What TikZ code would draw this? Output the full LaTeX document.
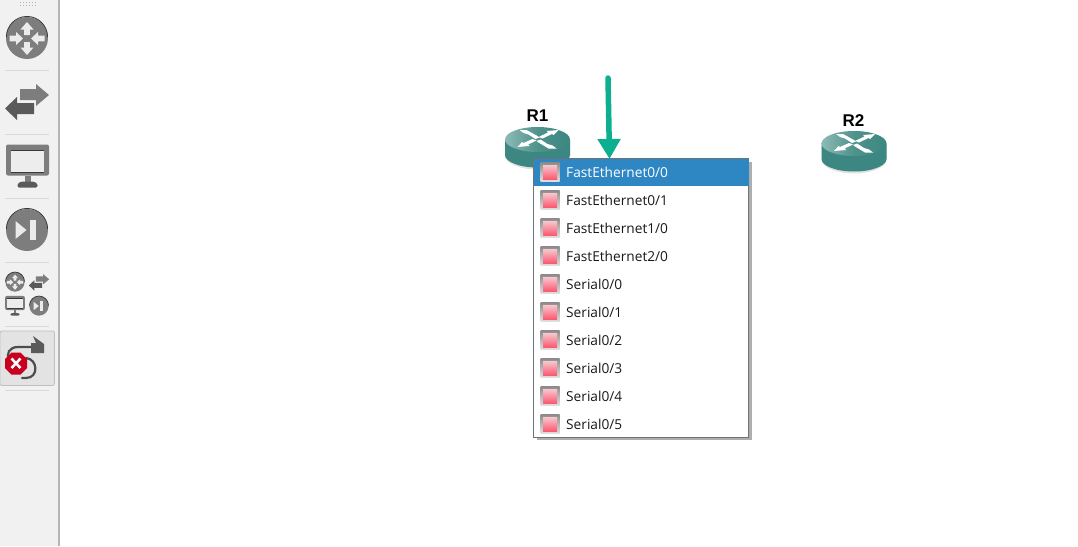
\documentclass[tikz,border=0pt]{standalone}
\usepackage{fontspec}
\setmainfont{Open Sans}
\newfontfamily\labelfont{Liberation Sans}
\usetikzlibrary{arrows.meta,shadings}
\definecolor{sidebg}{HTML}{F1F1F1}
\definecolor{sideedge}{HTML}{B4B4B4}
\definecolor{sepcol}{HTML}{D9D9D9}
\definecolor{icondark}{HTML}{5A5A5A}
\definecolor{iconmid}{HTML}{7D7D7D}
\definecolor{iconedge}{HTML}{3A3A3A}
\definecolor{teal}{HTML}{3C8781}
\definecolor{tealtop}{HTML}{4F928C}
\definecolor{tealpale}{HTML}{8DBAB6}
\definecolor{arrowgreen}{HTML}{0CB08E}
\definecolor{rowblue}{HTML}{2E87C3}
\definecolor{menuedge}{HTML}{6E7378}
\definecolor{stopred}{HTML}{C8001E}
\definecolor{ledtop}{HTML}{F7C4CC}
\definecolor{ledmid}{HTML}{F78A9A}
\definecolor{ledbot}{HTML}{FB5A72}
\tikzset{
  x=1pt,y=-1pt,
  sepline/.style={draw=sepcol,line width=1pt},
  menurow/.style={anchor=west,inner sep=0pt,font=\fontsize{13.7}{16}\selectfont,text=black!90},
  menusel/.style={menurow,text=white},
  routerlabel/.style={inner sep=0pt,font=\labelfont\bfseries\fontsize{17}{18}\selectfont},
  pics/routericon/.style={code={
    \fill[iconmid] (0,0) circle (21);
    \draw[iconedge,line width=0.8pt] (-20.6,-1) arc (180:360:20.6 and 20.6);
    \fill[white!92!black] (0,-16)--(6.5,-8.5)--(2.8,-8.5)--(2.8,-3)--(-2.8,-3)--(-2.8,-8.5)--(-6.5,-8.5)--cycle;
    \fill[white!92!black] (0,17)--(6.5,9.5)--(2.8,9.5)--(2.8,4)--(-2.8,4)--(-2.8,9.5)--(-6.5,9.5)--cycle;
    \fill[white!92!black] (-4,0.5)--(-11,-6)--(-11,-2.3)--(-17.5,-2.3)--(-17.5,3.3)--(-11,3.3)--(-11,7)--cycle;
    \fill[white!92!black] (4,0.5)--(11,-6)--(11,-2.3)--(17.5,-2.3)--(17.5,3.3)--(11,3.3)--(11,7)--cycle;
  }},
  pics/switchicon/.style={code={
    \fill[iconmid] (-7,-12)--(9,-12)--(9,-17)--(22,-6)--(9,5)--(9,-1)--(-7,-1)--cycle;
    \fill[icondark] (7,2)--(-10,2)--(-10,-4)--(-22,7.5)--(-10,19)--(-10,13)--(7,13)--cycle;
  }},
  pics/monitoricon/.style={code={
    \fill[iconmid,rounded corners=2pt] (-21.5,-22)rectangle(21.5,9);
    \fill[white!93!black] (-16.5,-15.5)rectangle(16.5,5);
    \fill[iconedge] (-16.5,-16.5)rectangle(16.5,-15.5);
    \fill[iconedge] (-16.5,5)rectangle(16.5,6);
    \fill[iconmid] (-3,9)rectangle(3,15);
    \fill[icondark,rounded corners=1.5pt] (-10,21)--(-10,17)--(-6,15)--(6,15)--(10,17)--(10,21)--cycle;
  }},
  pics/playicon/.style={code={
    \fill[iconmid] (0,0) circle (21);
    \draw[iconedge,line width=0.8pt] (-20.6,-1) arc (180:360:20.6 and 20.6);
    \fill[white!92!black] (-11.5,-9)--(-0.5,0)--(-11.5,9)--cycle;
    \fill[white!92!black] (3,-10)rectangle(9,10);
  }},
  pics/portled/.style={code={
    \shade[top color=black!45,bottom color=black!12] (-9.5,-9.5)rectangle(9.5,9.5);
    \shade[top color=ledtop,middle color=ledmid,bottom color=ledbot] (-7,-6.5)rectangle(7,7);
  }},
  pics/routerbody/.style={code={
    \fill[black!25,opacity=.45] (-32.5,2) -- (-32.5,16) arc (180:0:32.5 and 14) -- (32.5,2) -- cycle;
    \fill[teal] (-32.5,0)--(-32.5,15.5) arc (180:0:32.5 and 12.5)--(32.5,0)--cycle;
    \shade[left color=tealpale,right color=teal,middle color=tealtop] (0,0) ellipse (32.5 and 12.5);
    \fill[white] (-18,-9.5)--(-11,-9.5)--(-1,-4)--(2,-2)--(-2,-0.5)--(-9,-5)--(-14,-6.5)--cycle;
    \fill[white] (21,-9.5)--(9,-8.5)--(10.5,-7)--(1,-2.5)--(5,-1)--(14.5,-5.5)--(16,-4.5)--cycle;
    \fill[white] (-20,7.5)--(-8,6.5)--(-9.5,5)--(-1,1)--(-5,-0.5)--(-14,3.5)--(-15.5,2.5)--cycle;
    \fill[white] (19,9)--(11,9)--(1,3)--(-1,1.5)--(3,0)--(10,4.5)--(15,6)--cycle;
  }},
}
\begin{document}
\begin{tikzpicture}
\useasboundingbox (0,0) rectangle (1078,546);
\fill[white] (0,0) rectangle (1078,546);
% side bar
\fill[sidebg] (0,0) rectangle (58,546);
\fill[sideedge] (58,0) rectangle (60,546);
\foreach \gx in {20,23,...,36}{\foreach \gy in {2,5}{\fill[black!28] (\gx,\gy) rectangle +(1,1);}}
\foreach \sy in {70,134,198,262,326,390}{\draw[sepline] (5,\sy)--(49,\sy);}
\pic at (27,38) {routericon};
\pic at (27,101) {switchicon};
\pic at (27.5,166.5) {monitoricon};
\pic at (27,230) {playicon};
\pic[scale=.46] at (15,282) {routericon};
\pic[scale=.46] at (39,282) {switchicon};
\pic[scale=.46] at (15,306) {monitoricon};
\pic[scale=.46] at (39,306) {playicon};
% selected tool
\filldraw[fill=black!11,draw=black!25,rounded corners=2pt,line width=.8pt] (0,331) rectangle (54.5,385.5);
\draw[icondark!85!black,line width=2.2pt,line cap=round] (32,347) -- (18,347) .. controls (9,347) and (6,354) .. (9,360);
\draw[icondark!85!black,line width=2.2pt,line cap=round] (26,358) .. controls (38,359) and (39,378) .. (26,378) -- (22,378);
\fill[icondark] (31,343) -- (36,343) -- (33,336) -- (44,344) -- (44,353) -- (31,353) -- cycle;
\fill[stopred] (11.5,352.5)--(20.5,352.5)--(27,359)--(27,368)--(20.5,374.5)--(11.5,374.5)--(5,368)--(5,359)--cycle;
\draw[white,line width=2.6pt] (11.5,358.5)--(20.5,368) (20.5,358.5)--(11.5,368);
% routers
\pic at (537.5,139.5) {routerbody};
\pic at (854,143.5) {routerbody};
\node[routerlabel] (r1) at (537.5,116) {R1};
\node[routerlabel] (r2) at (853.5,120.5) {R2};
% menu
\fill[black!45,opacity=.7] (537,162) rectangle (751.5,440);
\filldraw[fill=white,draw=menuedge,line width=.8pt] (533.5,158.5) rectangle (748.5,437);
\fill[rowblue] (534,159) rectangle (748.5,186);
\foreach \ry/\rname/\rtxt/\rsty in {
 172/a/FastEthernet0\slash 0/menusel,
 200/b/FastEthernet0\slash 1/menurow,
 228/c/FastEthernet1\slash 0/menurow,
 256/d/FastEthernet2\slash 0/menurow,
 284/e/Serial0\slash 0/menurow,
 312/f/Serial0\slash 1/menurow,
 340/g/Serial0\slash 2/menurow,
 368/h/Serial0\slash 3/menurow,
 396/i/Serial0\slash 4/menurow,
 424/j/Serial0\slash 5/menurow}{
  \pic at (550,\ry) {portled};
  \node[\rsty] (port\rname) at (566,\ry+0.5) {\rtxt};
}
% green arrow
\coordinate (arrowstart) at (608,78);
\coordinate (arrowend) at (609.5,159);
\draw[arrowgreen,line width=5.5pt,line cap=round,-{Triangle[length=20pt,width=22pt]}] (arrowstart) -- (arrowend);
\end{tikzpicture}
\end{document}
